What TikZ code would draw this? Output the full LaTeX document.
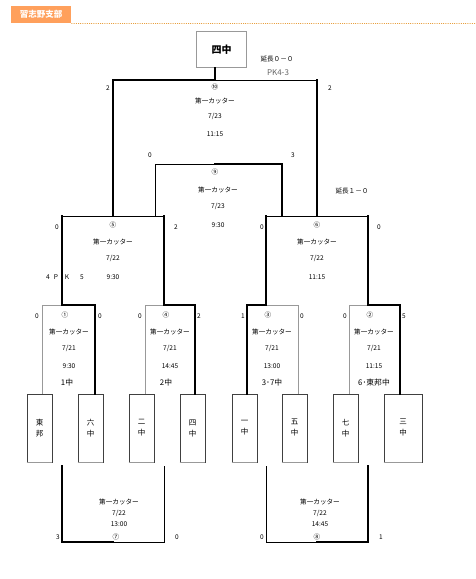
\documentclass[tikz,border=0pt]{standalone}
\usepackage{fontspec}
\setmainfont{Noto Sans CJK JP}
\definecolor{hdr}{HTML}{FFA05C}
\definecolor{hdrline}{HTML}{E8A040}
\begin{document}
\begin{tikzpicture}[x=1pt,y=-1pt,
  thk/.style={line width=1.9pt, line cap=rect},
  thn/.style={line width=0.8pt},
  gry/.style={line width=0.9pt, draw=black!40},
  lbl/.style={font=\fontsize{6.6}{7}\selectfont, inner sep=0pt, text=black},
  sc/.style={font=\fontsize{6.5}{7}\selectfont, inner sep=0pt, text=black},
  win/.style={font=\fontsize{7.8}{8}\selectfont, inner sep=0pt, text=black},
  school/.style={draw=black!75, line width=0.7pt, minimum width=25pt, minimum height=68pt, inner sep=0pt, align=center, font=\fontsize{7.5}{11}\selectfont},
]
\useasboundingbox (0,0) rectangle (475,579);
\fill[white] (0,0) rectangle (475,579);

% header
\node[fill=hdr, minimum width=60pt, minimum height=17pt, anchor=north west, inner sep=0pt, text=white, font=\bfseries\fontsize{8.5}{9}\selectfont] (hdr) at (11,6) {習志野支部};
\draw[hdrline, line width=0.8pt, dash pattern=on 1pt off 1.2pt] (hdr.south east) -- (475,23.5) coordinate (hdrend);

% champion
\node[draw=black!40, line width=1.4pt, minimum width=50pt, minimum height=36pt, inner sep=0pt, font=\bfseries\fontsize{10}{11}\selectfont] (champ) at (221.5,49.5) {四中};
\node[lbl] (ext1) at (277,59) {延長０－０};
\node[font=\fontsize{8}{9}\selectfont, inner sep=0pt, text=black!60] (pk1) at (278,73) {PK4-3};

% schools
\node[school] (s1) at (39.5,428) {東\\邦};
\node[school] (s2) at (90.5,428) {六\\中};
\node[school] (s3) at (141.5,428) {二\\中};
\node[school] (s4) at (192.5,428) {四\\中};
\node[school] (s5) at (244.5,428) {一\\中};
\node[school] (s6) at (294.5,428) {五\\中};
\node[school] (s7) at (345.5,428) {七\\中};
\node[school, minimum width=38pt] (s8) at (403,428) {三\\中};
\foreach \s in {s1,s2,s3,s4,s5,s6,s7,s8}
  \draw[black!40, line width=1.3pt] (\s.south west) -- (\s.south east);

% thin / gray lines
\draw[thn] (215,80) -- (317,80);
\draw[thn] (155,216) -- (155,164) -- (215,164);
\draw[thn] (62,216) -- (164,216);
\draw[thn] (266,216) -- (368,216);
\draw[gry] (62,305) -- (42,305) -- (42,0 |- s1.north);
\draw[gry] (164,305) -- (145,305) -- (145,0 |- s3.north);
\draw[gry] (266,305) -- (298,305) -- (298,0 |- s6.north);
\draw[gry] (368,305) -- (349,305) -- (349,0 |- s7.north);
\draw[thn] (164,466) -- (164,542) -- (113,542);
\draw[thn] (266,466) -- (266,542) -- (317,542);

% thick lines
\draw[thk] (113,216) -- (113,80) -- (215,80) -- (215,0 |- champ.south);
\draw[thk] (317,80) -- (317,216);
\draw[thk] (215,164) -- (282,164) -- (282,216);
\draw[thk] (62,216) -- (62,305) -- (95,305) -- (95,0 |- s2.north);
\draw[thk] (164,216) -- (164,305) -- (195,305) -- (195,0 |- s4.north);
\draw[thk] (266,216) -- (266,305) -- (247,305) -- (247,0 |- s5.north);
\draw[thk] (368,216) -- (368,305) -- (400,305) -- (400,0 |- s8.north);
\draw[thk] (62,466) -- (62,542) -- (113,542);
\draw[thk] (368,466) -- (368,542) -- (317,542);

% final 10
\node[sc] (a1) at (108,88) {2};
\node[sc] (a2) at (330,88) {2};
\node[lbl] (m10) at (215,87) {⑩};
\node[lbl] (m10a) at (215,101) {第一カッター};
\node[lbl] (m10b) at (215,116) {7/23};
\node[lbl] (m10c) at (215,134) {11:15};

% match 9
\node[sc] (b1) at (150,155) {0};
\node[sc] (b2) at (293,155) {3};
\node[lbl] (m9) at (215,172) {⑨};
\node[lbl] (m9a) at (218,190) {第一カッター};
\node[lbl] (m9b) at (218,206) {7/23};
\node[lbl] (m9c) at (218,225) {9:30};
\node[lbl] (ext2) at (352,191) {延長１－０};

% match 5
\node[sc] (c1) at (57,227) {0};
\node[sc] (c2) at (176,227) {2};
\node[lbl] (m5) at (113,225) {⑤};
\node[lbl] (m5a) at (113,242) {第一カッター};
\node[lbl] (m5b) at (113,258) {7/22};
\node[lbl] (m5c) at (113,277) {9:30};
\node[lbl] (pk2a) at (48,277) {4};
\node[lbl] (pk2b) at (56,277) {P};
\node[lbl] (pk2c) at (67,277) {K};
\node[lbl] (pk2d) at (82,277) {5};

% match 6
\node[sc] (d1) at (262,227) {0};
\node[sc] (d2) at (379,227) {0};
\node[lbl] (m6) at (317,225) {⑥};
\node[lbl] (m6a) at (317,242) {第一カッター};
\node[lbl] (m6b) at (317,258) {7/22};
\node[lbl] (m6c) at (317,277) {11:15};

% match 1
\node[sc] (e1) at (37,316) {0};
\node[sc] (e2) at (100,316) {0};
\node[lbl] (m1) at (65,315) {①};
\node[lbl] (m1a) at (69,332) {第一カッター};
\node[lbl] (m1b) at (69,348) {7/21};
\node[lbl] (m1c) at (69,366) {9:30};
\node[win] (m1d) at (67,383) {1中};

% match 4
\node[sc] (f1) at (140,316) {0};
\node[sc] (f2) at (199,316) {2};
\node[lbl] (m4) at (166,315) {④};
\node[lbl] (m4a) at (170,332) {第一カッター};
\node[lbl] (m4b) at (170,348) {7/21};
\node[lbl] (m4c) at (170,366) {14:45};
\node[win] (m4d) at (166,383) {2中};

% match 3
\node[sc] (g1) at (243,316) {1};
\node[sc] (g2) at (302,316) {0};
\node[lbl] (m3) at (268,315) {③};
\node[lbl] (m3a) at (272,332) {第一カッター};
\node[lbl] (m3b) at (272,348) {7/21};
\node[lbl] (m3c) at (272,366) {13:00};
\node[win] (m3d) at (272,383) {3･7中};

% match 2
\node[sc] (h1) at (345,316) {0};
\node[sc] (h2) at (404,316) {5};
\node[lbl] (m2) at (370,315) {②};
\node[lbl] (m2a) at (374,332) {第一カッター};
\node[lbl] (m2b) at (374,348) {7/21};
\node[lbl] (m2c) at (374,366) {11:15};
\node[win] (m2d) at (374,383) {6･東邦中};

% match 7
\node[sc] (i1) at (58,537) {3};
\node[sc] (i2) at (177,537) {0};
\node[lbl] (m7a) at (119,502) {第一カッター};
\node[lbl] (m7b) at (119,513) {7/22};
\node[lbl] (m7c) at (119,524) {13:00};
\node[lbl] (m7) at (116,537) {⑦};

% match 8
\node[sc] (j1) at (262,537) {0};
\node[sc] (j2) at (381,537) {1};
\node[lbl] (m8a) at (320,502) {第一カッター};
\node[lbl] (m8b) at (320,513) {7/22};
\node[lbl] (m8c) at (320,524) {14:45};
\node[lbl] (m8) at (317,537) {⑧};
\end{tikzpicture}
\end{document}
